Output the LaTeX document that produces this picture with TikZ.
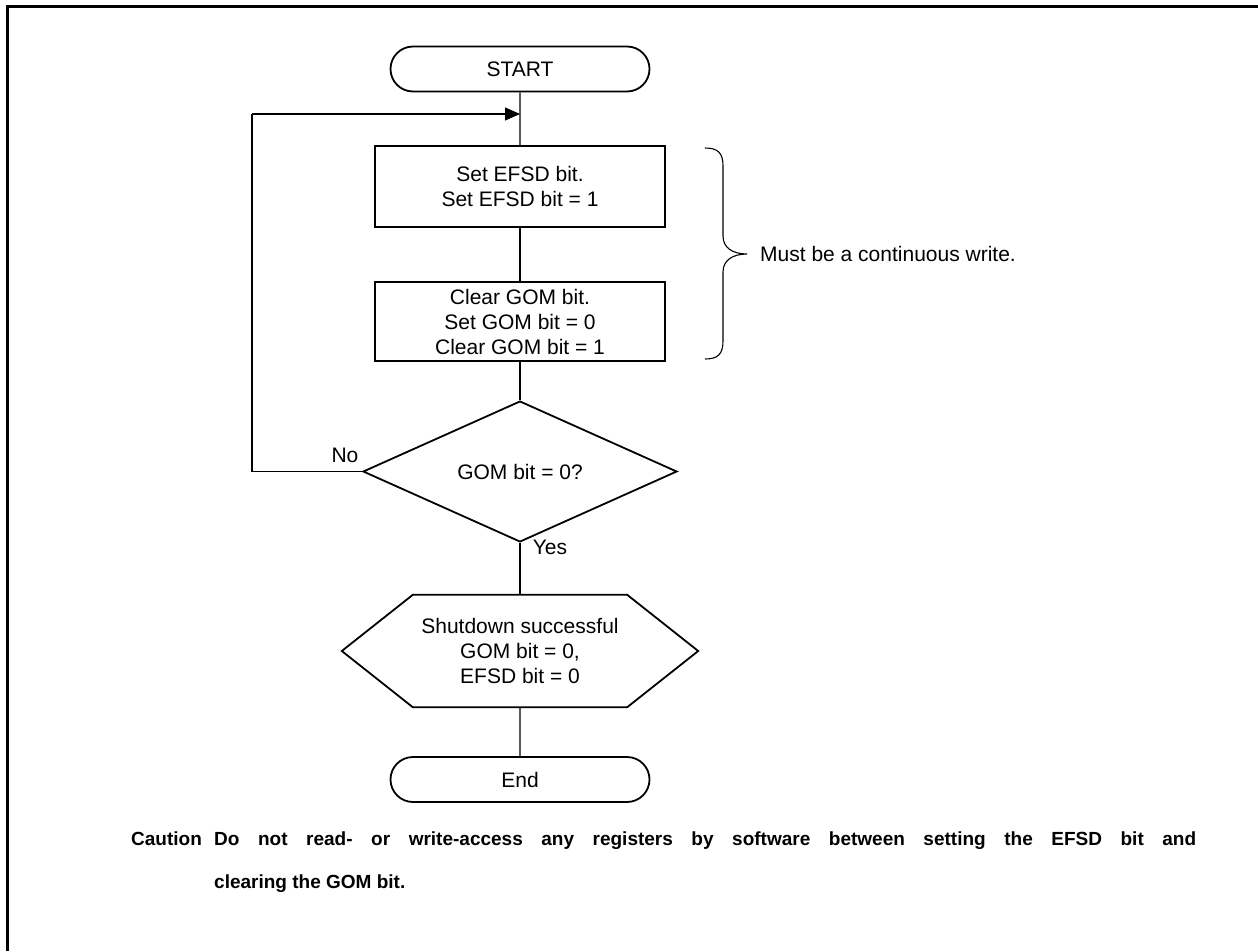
\documentclass[tikz,border=0pt]{standalone}
\usepackage{fontspec}
\setmainfont{Liberation Sans}
\usetikzlibrary{shapes.geometric,shapes.misc,arrows.meta}
\begin{document}
\begin{tikzpicture}[x=1pt,y=-1pt,
  every node/.style={font=\fontsize{21}{25}\selectfont},
  term/.style={draw, line width=1.8pt, rounded rectangle, minimum width=259pt, minimum height=45pt, inner sep=0pt},
  proc/.style={draw, line width=1.8pt, rectangle, minimum width=290pt, align=center, inner sep=0pt},
  dec/.style={draw, line width=1.8pt, diamond, minimum width=314pt, minimum height=112pt, inner sep=0pt},
  hexbox/.style={minimum width=356pt, minimum height=112pt, align=center, inner sep=0pt},
  conn/.style={line width=1.1pt},
  lbl/.style={inner sep=0pt},
  caut/.style={inner sep=0pt, font=\bfseries\fontsize{19}{23}\selectfont},
]
\useasboundingbox (0,0) rectangle (1258,951);
\fill[white] (0,0) rectangle (1258,951);
% frame
\draw[line width=3pt] (7.5,951) -- (7.5,6.5) -- (1258,6.5);

\node[term] (start) at (520,69) {START};
\node[proc, minimum height=81pt] (box1) at (520,186.5) {Set EFSD bit.\\Set EFSD bit = 1};
\node[proc, minimum height=79pt] (box2) at (520,321.5) {Clear GOM bit.\\Set GOM bit = 0\\Clear GOM bit = 1};
\node[dec] (dec) at (520,471.5) {GOM bit = 0?};
\node[hexbox] (hex) at (520,651) {Shutdown successful\\GOM bit = 0,\\EFSD bit = 0};
\draw[line width=1.8pt] (hex.west) -- ([xshift=71pt]hex.north west) -- ([xshift=-71pt]hex.north east) -- (hex.east) -- ([xshift=-71pt]hex.south east) -- ([xshift=71pt]hex.south west) -- cycle;
\node[term] (end) at (520,779.5) {End};

\coordinate (lt) at (252,114);
\coordinate (mg) at (520,114);

\draw[conn] (start) -- (box1);
\draw[conn] (box1) -- (box2);
\draw[conn] (box2) -- (dec);
\draw[conn] (dec) -- (hex);
\draw[conn] (hex) -- (end);
\draw[conn] (dec.west) -| (lt);
\draw[conn,-{Triangle[length=15pt,width=13pt]}] (lt) -- (mg);

\node[lbl] (no) at (345,455) {No};
\node[lbl] (yes) at (550,547) {Yes};

% brace
\draw[line width=1.1pt] (705,148) .. controls (718,148) and (723,153) .. (723,166) -- (723,236) .. controls (723,248) and (733,254) .. (747,254) .. controls (733,254) and (723,260) .. (723,272) -- (723,341) .. controls (723,354) and (718,359) .. (705,359);
\node[lbl, anchor=west] (note) at (760,254) {Must be a continuous write.};

% caution
\node[caut, anchor=base west] (ct) at (131,845) {Caution};
\node[caut, anchor=base west] (c1) at (214,845) {\makebox[982pt][s]{Do not read- or write-access any registers by software between setting the EFSD bit and}};
\node[caut, anchor=base west] (c2) at (214,888) {clearing the GOM bit.};
\end{tikzpicture}
\end{document}
